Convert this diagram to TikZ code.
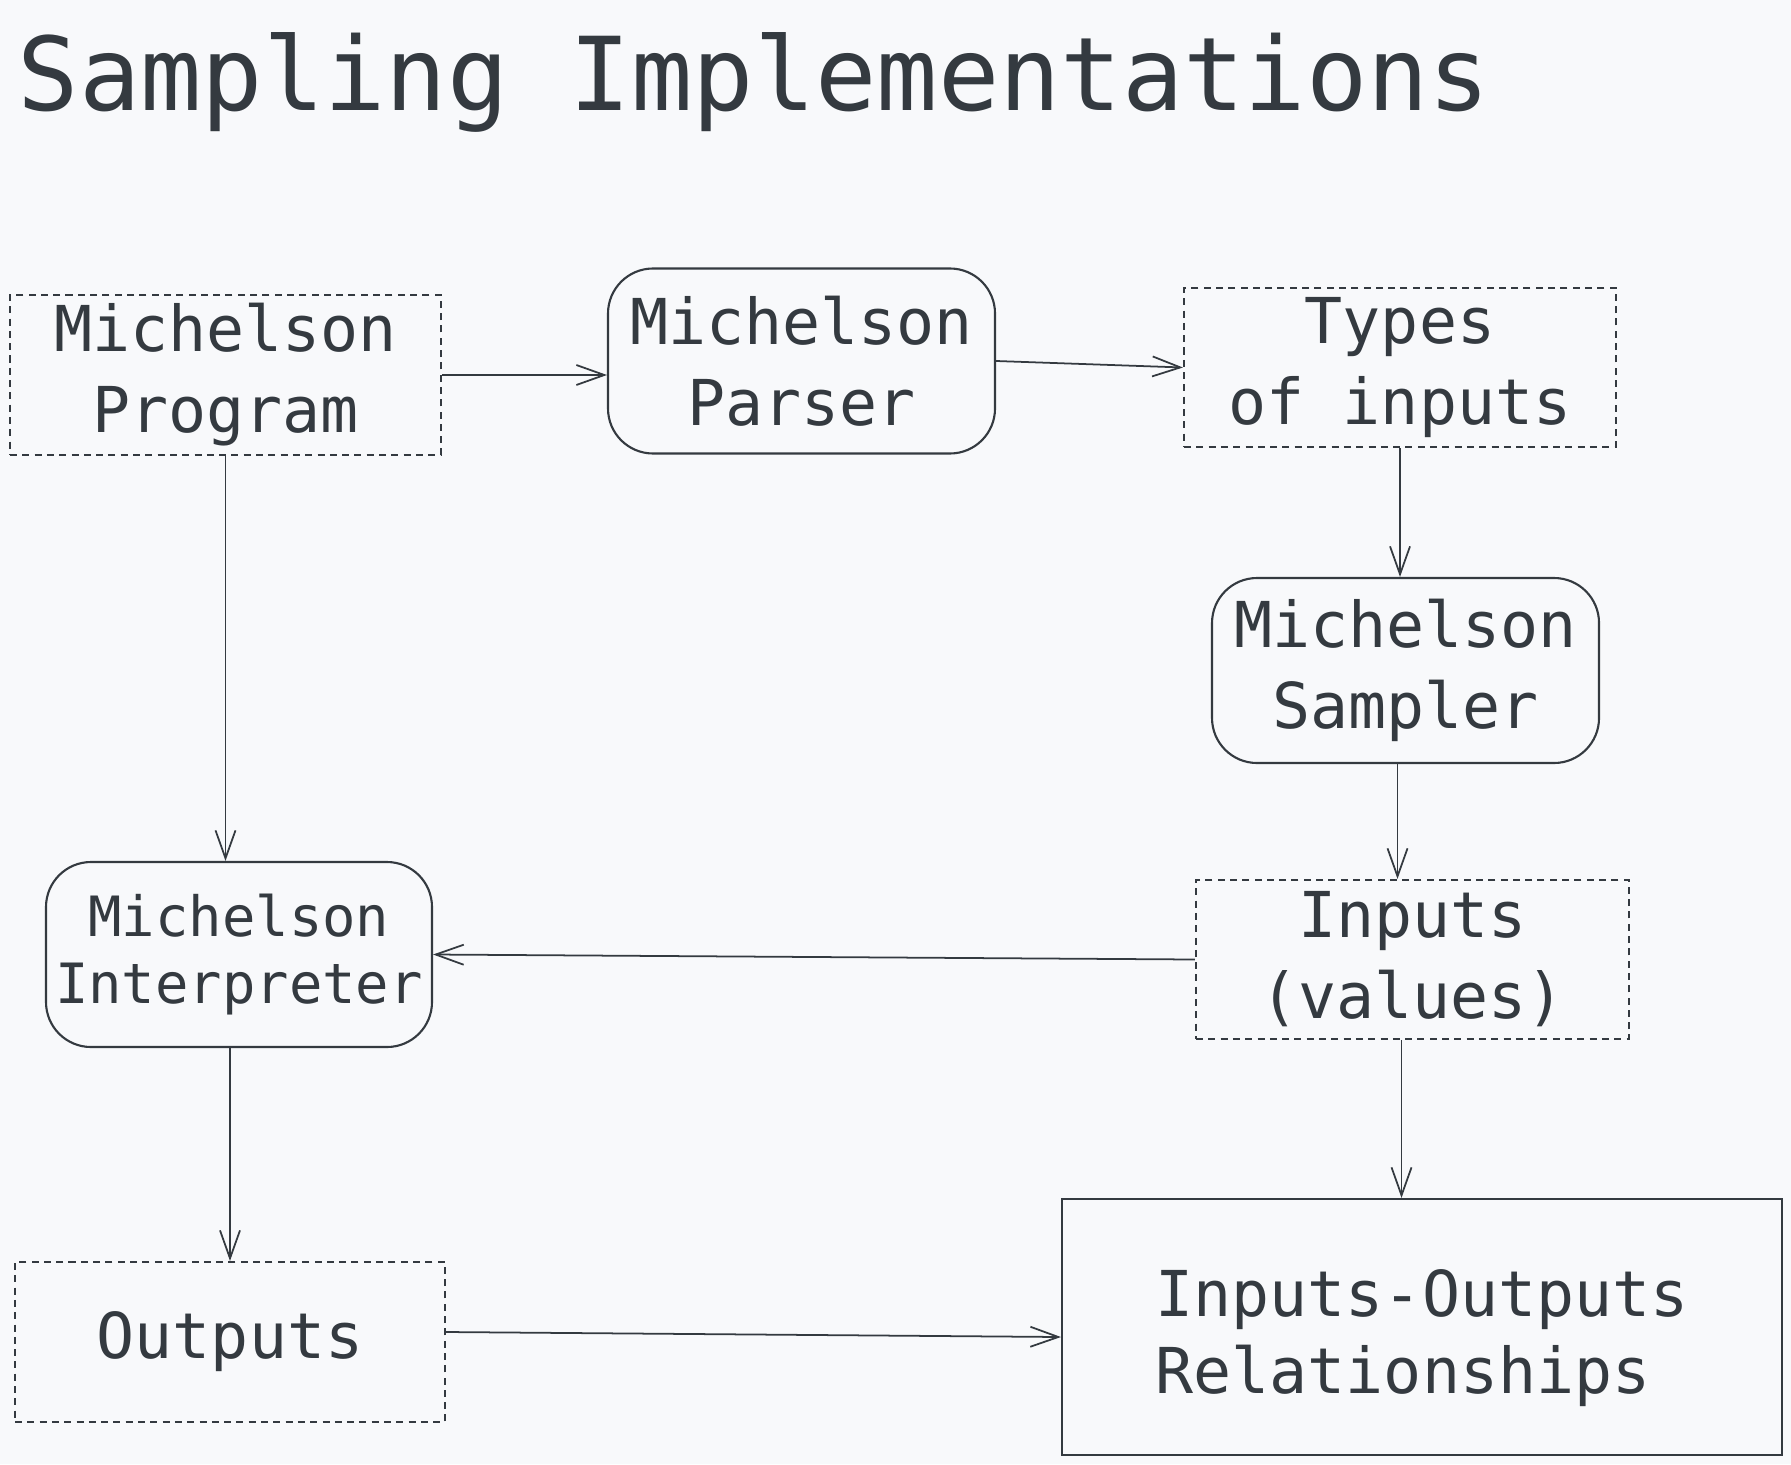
\documentclass[tikz,border=0pt]{standalone}
\usepackage{fontspec}
\setmainfont{DejaVu Sans Mono}
\usepackage{tikz}
\usepackage{xcolor}
\usetikzlibrary{arrows.meta}
\definecolor{ink}{HTML}{343A40}
\definecolor{paper}{HTML}{F8F9FB}

\begin{document}
\begin{tikzpicture}[x=1cm,y=1cm]
\tikzstyle{every node}+=[inner sep=0pt, text=ink]
\tikzstyle{data}=[draw=ink, line width=0.6pt, dash pattern=on 2pt off 1.5pt, minimum width=4.31cm, minimum height=1.6cm, align=center, font=\fontsize{18}{23}\selectfont]
\tikzstyle{tool}=[draw=ink, line width=0.6pt, rounded corners=0.45cm, minimum width=3.87cm, minimum height=1.85cm, align=center, font=\fontsize{18}{23}\selectfont]
\tikzstyle{link}=[draw=ink, line width=0.5pt, -{Straight Barb[length=2.8mm,width=2mm]}]
\fill [paper] (0,0) rectangle (17.91,-14.64);
\useasboundingbox (0,0) rectangle (17.91,-14.64);
\node (title) at (0.17,-1.11) [anchor=base west, font=\fontsize{29}{34}\selectfont] {Sampling Implementations};
\node (prog) at (2.255,-3.75) [data] {Michelson\\Program};
\node (parser) at (8.015,-3.61) [tool] {Michelson\\Parser};
\node (types) at (14.00,-3.675) [data, minimum width=4.32cm, minimum height=1.59cm] {Types\\of inputs};
\node (sampler) at (14.055,-6.705) [tool] {Michelson\\Sampler};
\node (inputs) at (14.125,-9.595) [data, minimum width=4.33cm, minimum height=1.59cm] {Inputs\\(values)};
\node (interp) at (2.39,-9.545) [tool, minimum width=3.86cm, font=\fontsize{15.8}{19}\selectfont] {Michelson\\Interpreter};
\node (outs) at (2.30,-13.42) [data, minimum width=4.30cm] {Outputs};
\node (rel) at (14.22,-13.27) [draw=ink, line width=0.6pt, minimum width=7.20cm, minimum height=2.56cm] {};
\node (rellabel) at (14.22,-13.38) [align=left, font=\fontsize{18}{22}\selectfont] {Inputs-Outputs\\Relationships};
\draw [link] (prog.east) -- (prog.east -| parser.west);
\draw [link] (parser.east) -- (types.west);
\draw [link] (types.south) -- (types.south |- sampler.north);
\draw [link] ([xshift=-0.08cm]sampler.south) -- ([xshift=-0.08cm]sampler.south |- inputs.north);
\draw [link] (inputs.west) -- (interp.east);
\draw [link] (prog.south) -- (prog.south |- interp.north);
\draw [link] (outs.north |- interp.south) -- (outs.north);
\draw [link] ([xshift=-0.11cm]inputs.south) -- ([xshift=-0.11cm]inputs.south |- rel.north);
\draw [link] ([yshift=0.1cm]outs.east) -- ([yshift=0.05cm]outs.east -| rel.west);
\end{tikzpicture}
\end{document}
